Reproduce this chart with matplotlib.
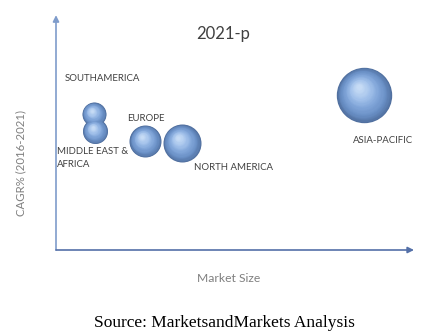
import numpy as np
import matplotlib.pyplot as plt
from matplotlib.transforms import offset_copy
from matplotlib.colors import LinearSegmentedColormap

# data (market size vs CAGR, bubble radius in px)
regions = ['SOUTH AMERICA', 'MIDDLE EAST & AFRICA', 'EUROPE', 'NORTH AMERICA', 'ASIA-PACIFIC']
market_size = [10.6, 10.9, 24.9, 35.2, 86.1]
cagr = [59.6, 52.2, 47.8, 46.9, 68.0]
bubble_r = [12, 12.5, 16, 19, 27.7]

labels = ['SOUTHAMERICA', 'MIDDLE EAST &\nAFRICA', 'EUROPE', 'NORTH AMERICA', 'ASIA-PACIFIC']
label_xy = [(2.5, 77.0), (0.4, 45.0), (19.8, 59.5), (38.5, 38.0), (83.0, 50.0)]

fig = plt.figure(figsize=(4.33, 3.36), dpi=100)
ax = fig.add_axes([56 / 433, 86 / 336, 358 / 433, 228 / 336])
ax.set_xlim(0, 100)
ax.set_ylim(0, 100)
ax.axis('off')

cmap = LinearSegmentedColormap.from_list('sph', ['#506f9e', '#6a90c6', '#82a7da', '#a6c4ec', '#c6dbf5'])

# pseudo 3d spheres: stacked circles, shifted towards upper left
px2pt = 72 / fig.dpi
n = 30
for x, y, r in zip(market_size, cagr, bubble_r):
    for k in range(n):
        t = k / (n - 1)
        rr = r * (1 - 0.9 * t)
        dx = -0.2 * r * t
        dy = 0.28 * r * t
        tr = offset_copy(ax.transData, fig=fig, x=dx, y=dy, units='dots')
        ax.scatter([x], [y], s=(2 * rr * px2pt) ** 2, color=cmap(t ** 0.9),
                   transform=tr, linewidths=0, zorder=3 + k * 0.01)

font = ['Lato', 'DejaVu Sans']
for lab, (lx, ly) in zip(labels, label_xy):
    ax.text(lx, ly, lab, fontsize=6.9, color='#404040', family=font,
            ha='left', va='top', linespacing=1.45, zorder=10)

# axis arrows
ax.annotate('', xy=(0, 103), xytext=(0, 0),
            arrowprops=dict(arrowstyle='-|>', color='#7f9ccb', lw=1.2,
                            mutation_scale=9, shrinkA=0, shrinkB=0),
            annotation_clip=False)
ax.annotate('', xy=(100, 0), xytext=(0, 0),
            arrowprops=dict(arrowstyle='-|>', color='#5470a8', lw=1.2,
                            mutation_scale=9, shrinkA=0, shrinkB=0),
            annotation_clip=False)

fig.text(223 / 433, 1 - 34 / 336, '2021-p', fontsize=12, color='#404040',
         family=font, ha='center', va='center')
fig.text(229 / 433, 1 - 278 / 336, 'Market Size', fontsize=8.7, color='#7f7f7f',
         family=font, ha='center', va='center')
fig.text(21 / 433, 1 - 163 / 336, 'CAGR% (2016-2021)', fontsize=8.2, color='#7f7f7f',
         family=font, ha='center', va='center', rotation=90)
fig.text(224 / 433, 1 - 323 / 336, 'Source: MarketsandMarkets Analysis', fontsize=12.5,
         color='black', family=['Liberation Serif', 'DejaVu Serif'], ha='center', va='center')

fig.savefig('out.png', dpi=100)
